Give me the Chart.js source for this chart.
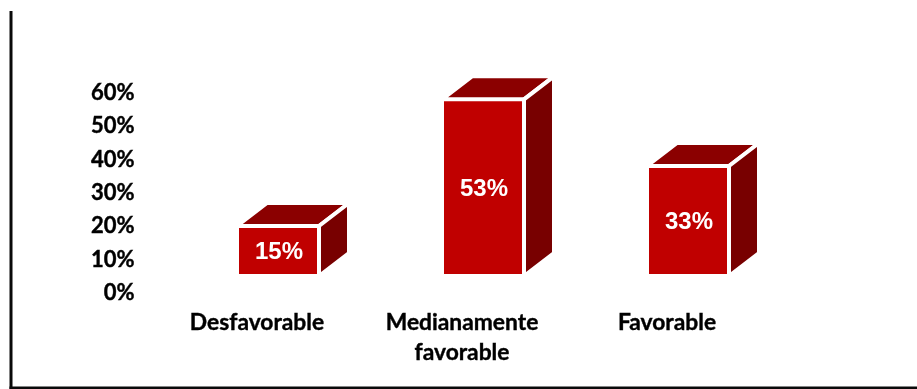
<!DOCTYPE html>
<html>
<head>
<meta charset="utf-8">
<style>
  html, body { margin: 0; padding: 0; background: #fff; overflow: hidden; }
  #wrap { position: relative; width: 917px; height: 389px; }
  canvas { display: block; }
</style>
</head>
<body>
<div id="wrap"><canvas id="chart" width="917" height="389"></canvas></div>
<script src="https://cdn.jsdelivr.net/npm/chart.js@4/dist/chart.umd.min.js"></script>
<script>
const categories = ['Desfavorable', ['Medianamente', 'favorable'], 'Favorable'];
const values = [15, 53, 33];
const yTicks = [0, 10, 20, 30, 40, 50, 60];

const DEPTH_X = 30;
const DEPTH_Y = 23;

function poly(ctx, pts, fill) {
  ctx.beginPath();
  pts.forEach((p, i) => i ? ctx.lineTo(p[0], p[1]) : ctx.moveTo(p[0], p[1]));
  ctx.closePath();
  ctx.fillStyle = fill;
  ctx.fill();
  ctx.stroke();
}

// top and side faces behind each front rectangle
const boxFaces = {
  id: 'boxFaces',
  beforeDatasetsDraw(chart) {
    const ctx = chart.ctx;
    ctx.save();
    ctx.strokeStyle = '#fff';
    ctx.lineWidth = 4;
    ctx.lineJoin = 'miter';
    chart.getDatasetMeta(0).data.forEach(bar => {
      const l = bar.x - bar.width / 2, r = bar.x + bar.width / 2;
      const t = bar.y, b = bar.base;
      poly(ctx, [[l, t], [l + DEPTH_X, t - DEPTH_Y], [r + DEPTH_X, t - DEPTH_Y], [r, t]], '#8b0000');
      poly(ctx, [[r, t], [r + DEPTH_X, t - DEPTH_Y], [r + DEPTH_X, b - DEPTH_Y], [r, b]], '#780000');
    });
    ctx.restore();
  }
};

// percentage written in the middle of each front face
const valueLabels = {
  id: 'valueLabels',
  afterDatasetsDraw(chart) {
    const ctx = chart.ctx;
    ctx.save();
    ctx.fillStyle = '#fff';
    ctx.font = 'bold 24px "Liberation Sans"';
    ctx.textAlign = 'center';
    ctx.textBaseline = 'middle';
    chart.getDatasetMeta(0).data.forEach((bar, i) => {
      ctx.fillText(values[i] + '%', bar.x + 1, (bar.y + bar.base) / 2 + 1.5);
    });
    ctx.restore();
  }
};

// frame on the left and bottom edges
const frame = {
  id: 'frame',
  beforeDraw(chart) {
    const ctx = chart.ctx;
    ctx.save();
    ctx.fillStyle = '#0a0a0a';
    ctx.fillRect(9.5, 11, 3, 378);
    ctx.fillRect(9.5, 386.5, 907.5, 2.5);
    ctx.restore();
  }
};

new Chart(document.getElementById('chart'), {
  type: 'bar',
  data: {
    labels: categories,
    datasets: [{
      data: values,
      backgroundColor: '#c00000',
      borderColor: '#fff',
      borderWidth: 2,
      borderSkipped: false,
      categoryPercentage: 1,
      barPercentage: 0.4
    }]
  },
  options: {
    responsive: false,
    animation: false,
    layout: { padding: { top: 76, left: 0, right: 126.5, bottom: 0 } },
    plugins: { legend: { display: false }, tooltip: { enabled: false } },
    scales: {
      x: {
        grid: { display: false },
        border: { display: false },
        afterFit: s => { s.height = 113; },
        ticks: {
          color: '#000',
          font: { family: 'Lato', size: 22.8, weight: 'bold', lineHeight: 1.316 },
          textStrokeColor: '#000',
          textStrokeWidth: 0.4,
          padding: 24,
          labelOffset: -21,
          maxRotation: 0,
          autoSkip: false
        }
      },
      y: {
        min: 0,
        max: 60,
        grid: { display: false },
        border: { display: false },
        afterFit: s => { s.width = 175.5; },
        afterBuildTicks: s => { s.ticks = yTicks.map(v => ({ value: v })); },
        ticks: {
          color: '#000',
          font: { family: 'Lato', size: 22, weight: 'bold' },
          textStrokeColor: '#000',
          textStrokeWidth: 0.4,
          padding: 33,
          labelOffset: 17,
          callback: v => v + '%'
        }
      }
    }
  },
  plugins: [frame, boxFaces, valueLabels]
});
</script>
</body>
</html>
